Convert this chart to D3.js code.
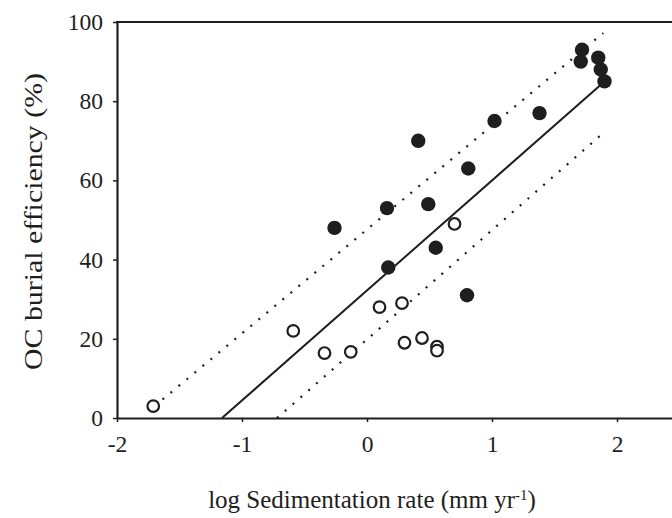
<!DOCTYPE html>
<html>
<head>
<meta charset="utf-8">
<script src="https://cdn.jsdelivr.net/npm/d3@7/dist/d3.min.js"></script>
<style>
  body { margin: 0; background: #fff; }
  svg { display: block; font-family: "Liberation Serif", "DejaVu Serif", serif; }
</style>
</head>
<body>
<svg width="672" height="518"></svg>
<script>
// filled circles (log sed rate, OC burial efficiency %)
var filledX = [-0.26, 0.16, 0.17, 0.41, 0.49, 0.55, 0.81, 0.80, 1.02, 1.38, 1.72, 1.71, 1.85, 1.87, 1.90];
var filledY = [48, 53, 38, 70, 54, 43, 63, 31, 75, 77, 93, 90, 91, 88, 85];

// open circles
var openX = [-1.71, -0.59, -0.34, -0.13, 0.10, 0.28, 0.30, 0.44, 0.56, 0.56, 0.70];
var openY = [3, 22, 16.4, 16.7, 28, 29, 19, 20.2, 18, 17, 49];

// regression line and bounds, as end points [x, y]
var fitLine = [[-1.16, 0], [1.90, 85]];
var upperLine = [[-1.70, 3], [1.89, 97.2]];
var lowerLine = [[-0.72, 0], [1.88, 71.7]];

var xTicks = [-2, -1, 0, 1, 2];
var yTicks = [0, 20, 40, 60, 80, 100];

var svg = d3.select("svg");
var ink = "#1e1e1e";

var x = d3.scaleLinear().domain([-2, 2.5]).range([117, 679.5]);
var y = d3.scaleLinear().domain([0, 100]).range([418, 22]);

var filled = filledX.map(function(d, i) { return { x: d, y: filledY[i] }; });
var open = openX.map(function(d, i) { return { x: d, y: openY[i] }; });

var line = d3.line()
  .x(function(d) { return x(d[0]); })
  .y(function(d) { return y(d[1]); });

var plain = function(d) { return String(d); };

// axes
var xAxis = svg.append("g")
  .attr("transform", "translate(0," + y(0) + ")")
  .call(d3.axisBottom(x).tickValues(xTicks).tickFormat(plain)
    .tickSize(4).tickPadding(13).tickSizeOuter(0));

var yAxis = svg.append("g")
  .attr("transform", "translate(" + x(-2) + ",0)")
  .call(d3.axisLeft(y).tickValues(yTicks).tickFormat(plain)
    .tickSize(4).tickPadding(10).tickSizeOuter(0));

[xAxis, yAxis].forEach(function(g) {
  g.attr("font-family", null);
  g.select(".domain").attr("stroke", ink).attr("stroke-width", 2.2);
  g.selectAll(".tick line").attr("stroke", ink).attr("stroke-width", 1.5);
  g.selectAll(".tick text")
    .attr("fill", ink)
    .style("font-family", "Liberation Serif, serif")
    .style("font-size", "23.5px");
});
xAxis.selectAll(".tick text").attr("dy", "0.71em");

// top border
svg.append("line")
  .attr("x1", x(-2) - 1).attr("x2", 672)
  .attr("y1", y(100)).attr("y2", y(100))
  .attr("stroke", ink).attr("stroke-width", 2.2);

// regression lines
svg.append("path").datum(fitLine)
  .attr("d", line).attr("fill", "none")
  .attr("stroke", ink).attr("stroke-width", 2);

[upperLine, lowerLine].forEach(function(l) {
  svg.append("path").datum(l)
    .attr("d", line).attr("fill", "none")
    .attr("stroke", ink).attr("stroke-width", 2.2)
    .attr("stroke-dasharray", "2,8.4");
});

// points
svg.selectAll("circle.open").data(open).enter().append("circle")
  .attr("class", "open")
  .attr("cx", function(d) { return x(d.x); })
  .attr("cy", function(d) { return y(d.y); })
  .attr("r", 5.8)
  .attr("fill", "#fff")
  .attr("stroke", ink)
  .attr("stroke-width", 2.2);

svg.selectAll("circle.filled").data(filled).enter().append("circle")
  .attr("class", "filled")
  .attr("cx", function(d) { return x(d.x); })
  .attr("cy", function(d) { return y(d.y); })
  .attr("r", 7.2)
  .attr("fill", ink);

// axis titles
var xt = svg.append("text")
  .attr("x", 372).attr("y", 508)
  .attr("text-anchor", "middle")
  .attr("fill", ink)
  .style("font-size", "25px");
xt.append("tspan").text("log Sedimentation rate (mm yr");
xt.append("tspan").text("-1").attr("baseline-shift", "super").style("font-size", "15px");
xt.append("tspan").text(")");

// the y title is drawn stretched along its length, as in the reference
svg.append("text")
  .attr("transform", "translate(42,221.5) rotate(-90)")
  .attr("text-anchor", "middle")
  .attr("fill", ink)
  .attr("textLength", 297)
  .attr("lengthAdjust", "spacingAndGlyphs")
  .style("font-size", "25px")
  .text("OC burial efficiency (%)");
</script>
</body>
</html>
